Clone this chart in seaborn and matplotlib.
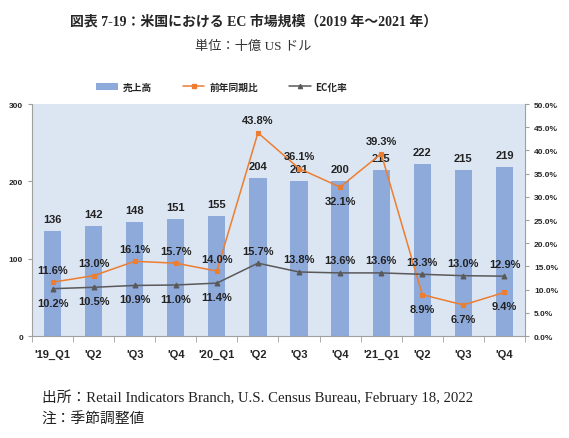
import numpy as np
import pandas as pd
import seaborn as sns
import matplotlib.pyplot as plt
from matplotlib.lines import Line2D
from matplotlib.patches import Patch
from matplotlib.ticker import FuncFormatter, MultipleLocator

# データ
quarters = ["'19_Q1", "'Q2", "'Q3", "'Q4", "'20_Q1", "'Q2", "'Q3", "'Q4", "'21_Q1", "'Q2", "'Q3", "'Q4"]
sales = [136, 142, 148, 151, 155, 204, 201, 200, 215, 222, 215, 219]
yoy = [11.6, 13.0, 16.1, 15.7, 14.0, 43.8, 36.1, 32.1, 39.3, 8.9, 6.7, 9.4]
ec_rate = [10.2, 10.5, 10.9, 11.0, 11.4, 15.7, 13.8, 13.6, 13.6, 13.3, 13.0, 12.9]

df = pd.DataFrame({'q': [f'{i}' for i in range(len(quarters))],
                   'sales': sales, 'yoy': yoy, 'ec': ec_rate})

sns.set_style('white')
plt.rcParams['font.family'] = ['Liberation Sans', 'Noto Sans CJK JP', 'DejaVu Sans']

bar_c = '#8eaadb'
org_c = '#ed7d31'
gry_c = '#595959'
bg_c = '#dce6f2'
serif = ['Liberation Serif', 'Noto Sans CJK JP']

fig = plt.figure(figsize=(5.69, 4.39), dpi=100)
ax = fig.add_axes([0.0562, 0.2323, 0.8665, 0.5285])
ax.set_facecolor(bg_c)

sns.barplot(data=df, x='q', y='sales', color=bar_c, width=0.42, saturation=1,
            edgecolor='none', linewidth=0, ax=ax)
ax.set_ylim(0, 300)
ax.set_xlim(-0.5, len(quarters) - 0.5)
ax.yaxis.set_major_locator(MultipleLocator(100))
ax.set_xlabel('')
ax.set_ylabel('')
ax.set_xticks(range(len(quarters)))
ax.set_xticklabels(quarters, fontsize=8, fontweight='bold')
ax.tick_params(axis='x', length=0, pad=9)
ax.tick_params(axis='y', labelsize=6, length=3, color='#a0a0a0', direction='out', left=True)
for t in ax.get_yticklabels():
    t.set_fontweight('bold')
# 区切り目盛り
ax.set_xticks(np.arange(-0.5, len(quarters), 1), minor=True)
ax.tick_params(axis='x', which='minor', length=4, color='#a0a0a0', direction='out', bottom=True)
for s in ['top', 'right']:
    ax.spines[s].set_visible(False)
for s in ['left', 'bottom']:
    ax.spines[s].set_color('#a0a0a0')
    ax.spines[s].set_linewidth(0.8)

for i, v in enumerate(sales):
    ax.annotate(str(v), (i, v), xytext=(0, 5), textcoords='offset points',
                ha='center', va='bottom', fontsize=8, fontweight='bold', color='#222222')

ax2 = ax.twinx()
sns.pointplot(data=df, x='q', y='yoy', color=org_c, markers='s', markersize=3.5,
              linewidth=1.1, ax=ax2)
sns.pointplot(data=df, x='q', y='ec', color=gry_c, markers='^', markersize=3.5,
              linewidth=1.1, ax=ax2)
ax2.set_ylim(0, 50)
ax2.set_xlim(-0.5, len(quarters) - 0.5)
ax2.yaxis.set_major_locator(MultipleLocator(5))
ax2.yaxis.set_major_formatter(FuncFormatter(lambda v, p: f'{v:.1f}%'))
ax2.set_ylabel('')
ax2.set_xlabel('')
ax2.tick_params(axis='y', labelsize=6, length=3, color='#a0a0a0', direction='out', right=True)
for t in ax2.get_yticklabels():
    t.set_fontweight('bold')
for s in ['top', 'left', 'bottom']:
    ax2.spines[s].set_visible(False)
ax2.spines['right'].set_color('#a0a0a0')
ax2.spines['right'].set_linewidth(0.8)

yoy_below = {7, 9, 10, 11}
for i, v in enumerate(yoy):
    dy = -10 if i in yoy_below else 9
    ax2.annotate(f'{v:.1f}%', (i, v), xytext=(0, dy), textcoords='offset points',
                 ha='center', va='center', fontsize=8, fontweight='bold', color='#222222')
for i, v in enumerate(ec_rate):
    dy = -10 if i < 5 else 9
    ax2.annotate(f'{v:.1f}%', (i, v), xytext=(0, dy), textcoords='offset points',
                 ha='center', va='center', fontsize=8, fontweight='bold', color='#222222')

handles = [Patch(facecolor=bar_c, edgecolor='none'),
           Line2D([], [], color=org_c, marker='s', markersize=3, lw=1.1),
           Line2D([], [], color=gry_c, marker='^', markersize=3, lw=1.1)]
fig.legend(handles, ['売上高', '前年同期比', 'EC化率'], loc='center', ncol=3,
           bbox_to_anchor=(0.39, 0.80), frameon=False, handlelength=2.2,
           columnspacing=3.2, handletextpad=0.5,
           prop={'family': ['Noto Sans CJK JP'], 'size': 7, 'weight': 'bold'})

fig.text(0.446, 0.950, '図表 7-19：米国における EC 市場規模（2019 年～2021 年）',
         ha='center', va='center', fontsize=10, fontweight='bold', family=serif)
fig.text(0.445, 0.893, '単位：十億 US ドル', ha='center', va='center', fontsize=9.5, family=serif,
         color='#333333')
fig.text(0.073, 0.096, '出所：Retail Indicators Branch, U.S. Census Bureau, February 18, 2022',
         ha='left', va='center', fontsize=10.6, family=serif, color='#222222')
fig.text(0.073, 0.043, '注：季節調整値', ha='left', va='center', fontsize=10.6, family=serif,
         color='#222222')

fig.savefig('out.png', dpi=100)
